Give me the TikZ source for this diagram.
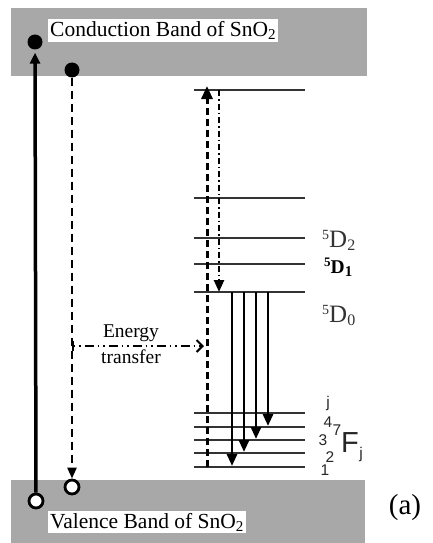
\documentclass[tikz,border=0pt]{standalone}
\usepackage{fontspec}
\setmainfont{Liberation Serif}
\newfontfamily\sansf{Liberation Sans}
\usetikzlibrary{arrows.meta}
\definecolor{bandgray}{gray}{0.66}
\definecolor{lvlgray}{gray}{0.2}
\newcommand{\fsz}[1]{\fontsize{#1}{#1}\selectfont}
\begin{document}
\begin{tikzpicture}[x=1pt,y=-1pt,
  bandlabel/.style={fill=white,inner sep=2pt,font=\fsz{21.5},anchor=west},
  level/.style={line width=2.3pt,draw=lvlgray},
  emit/.style={line width=2.8pt,-{Triangle[length=12pt,width=10pt]}},
  filleddot/.style={circle,fill=black,minimum size=15pt,inner sep=0pt},
  opendot/.style={circle,fill=white,draw=black,line width=2.8pt,minimum size=14pt,inner sep=0pt},
  sanslab/.style={font=\sansf\fsz{15.5},inner sep=0pt,text=black!85},
  dlab/.style={anchor=base west,inner sep=0pt,text=black!80},
]
\useasboundingbox (0,0) rectangle (433,543);
% bands
\fill[bandgray] (11,8) rectangle (367,76);
\fill[bandgray] (11,480) rectangle (365,543);
\node[bandlabel] (cb) at (48,30.5) {Conduction Band of SnO\textsubscript{2}};
\node[bandlabel] (vb) at (48,522) {Valence Band of SnO\textsubscript{2}};
% levels
\foreach \n/\y in {t/90,a/198,b/238,c/264,d/292,f5/413,f4/427,f3/440,f2/453,f1/467} {
  \coordinate (\n L) at (194,\y);
  \coordinate (\n R) at (305,\y);
  \draw[level] (\n L) -- (\n R);
}
% SnO2 transitions
\node[filleddot] (c1) at (35,42) {};
\node[filleddot] (c2) at (72,70) {};
\node[opendot] (v1) at (36,501) {};
\node[opendot] (v2) at (72,487) {};
\draw[line width=3.5pt,-{Triangle[length=11pt,width=10pt]},shorten >=3pt] (v1) -- (c1);
\draw[line width=2.5pt,dash pattern=on 8pt off 5pt,-{Triangle[length=11pt,width=9pt]}] (c2) -- (v2);
% Eu excitation / relaxation
\coordinate (up0) at (207,467);
\coordinate (up1) at (207,86);
\draw[line width=3pt,dash pattern=on 7pt off 4pt,-{Triangle[length=13pt,width=11pt]}] (up0) -- (up1);
\coordinate (dn0) at (219,90);
\coordinate (dn1) at (219,292);
\draw[line width=2.5pt,dash pattern=on 6pt off 3pt on 1.5pt off 3pt,-{Triangle[length=12pt,width=10pt]}] (dn0) -- (dn1);
% emission arrows
\foreach \i/\x/\y in {1/232/466,2/244/452,3/256/439,4/268/426} {
  \coordinate (es\i) at (\x,292);
  \coordinate (ee\i) at (\x,\y);
  \draw[emit] (es\i) -- (ee\i);
}
% energy transfer
\coordinate (et0) at (72,346);
\coordinate (et1) at (204,346);
\draw[line width=2pt,dash pattern=on 1.5pt off 4pt on 1.5pt off 4pt on 9pt off 4pt,{Bar[width=10pt]}-{Straight Barb[length=6pt,width=12pt]}] (et0) -- (et1);
\node[anchor=base,inner sep=0pt,font=\fsz{19.5}] (en1) at (131,337) {Energy};
\node[anchor=base,inner sep=0pt,font=\fsz{19.5}] (en2) at (131,363) {transfer};
% level labels
\node[dlab] (d2) at (322,247) {{\fsz{14}\raisebox{8pt}{5}}{\fsz{25}D}{\fsz{16}\raisebox{-3pt}{2}}};
\node[dlab,text=black] (d1) at (324,273) {\bfseries{\fsz{13}\raisebox{7pt}{5}}{\fsz{19.5}D}{\fsz{15}\raisebox{-3pt}{1}}};
\node[dlab] (d0) at (322,322) {{\fsz{14}\raisebox{8pt}{5}}{\fsz{25}D}{\fsz{16}\raisebox{-3pt}{0}}};
\node[sanslab] (lj) at (328,403) {j};
\node[sanslab] (l4) at (328,422) {4};
\node[sanslab] (l7) at (337,430) {7};
\node[sanslab] (l3) at (323,440) {3};
\node[sanslab] (l2) at (330,457) {2};
\node[sanslab] (l1) at (325,470) {1};
\node[inner sep=0pt,font=\sansf\fsz{29},text=black!85] (lF) at (350,443) {F};
\node[sanslab] (lFj) at (361,454) {j};
\node[inner sep=0pt,font=\fsz{29}] (lab) at (405,508) {(a)};
\end{tikzpicture}
\end{document}
